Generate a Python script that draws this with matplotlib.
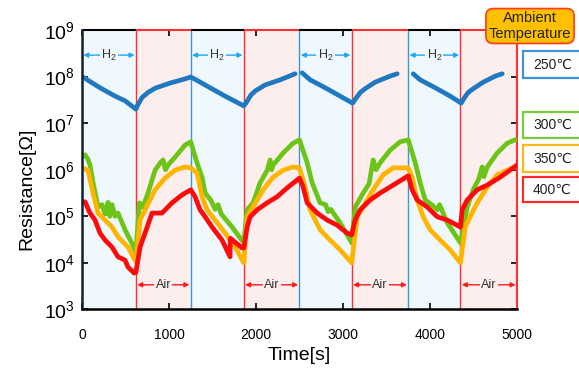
import numpy as np
import matplotlib
matplotlib.use('Agg')
import matplotlib.pyplot as plt
from matplotlib.patches import Rectangle

plt.rcParams['font.family'] = ['Liberation Sans', 'DejaVu Sans']
plt.rcParams['mathtext.fontset'] = 'custom'
plt.rcParams['mathtext.rm'] = 'Liberation Sans'
plt.rcParams['mathtext.it'] = 'Liberation Sans:italic'
plt.rcParams['mathtext.bf'] = 'Liberation Sans:bold'

NAN = float('nan')

# ---- data ----
boundaries = [0, 620, 1250, 1860, 2500, 3100, 3750, 4350, 5000]
phases = ['H2', 'Air', 'H2', 'Air', 'H2', 'Air', 'H2', 'Air']
legend_labels = ['250℃', '300℃', '350℃', '400℃']
x_ticks = [0, 1000, 2000, 3000, 4000, 5000]

t_250 = [0, 30, 69, 207, 380, 495, 620, 644, 690, 760, 840, 1012, 1185, 1250,
         1311, 1472, 1645, 1860, 1898, 1940, 1990, 2105, 2277, 2450, NAN,
         2530, 2622, 2795, 2967, 3110, 3151, 3200, 3255, 3370, 3542, 3623, NAN,
         3807, 3887, 4060, 4232, 4359, 4393, 4440, 4497, 4612, 4750, 4830]
logr_250 = [7.99, 7.97, 7.92, 7.76, 7.58, 7.48, 7.30, 7.40, 7.55, 7.66, 7.75, 7.86, 7.95, 7.99,
            7.93, 7.76, 7.58, 7.37, 7.47, 7.60, 7.69, 7.82, 7.93, 8.06, NAN,
            8.08, 7.93, 7.76, 7.58, 7.43, 7.54, 7.66, 7.74, 7.88, 8.01, 8.06, NAN,
            8.06, 7.93, 7.76, 7.58, 7.43, 7.54, 7.66, 7.74, 7.88, 8.01, 8.06]

t_300 = [0, 35, 69, 92, 127, 184, 230, 265, 300, 320, 345, 380, 414, 495, 580, 620,
         660, 700, 759, 840, 900, 932, 960, 989, 1012, 1070, 1185, 1250,
         1311, 1380, 1415, 1480, 1530, 1564, 1600, 1725, 1860,
         1898, 1967, 2047, 2130, 2162, 2180, 2197, 2312, 2427, 2500,
         2588, 2645, 2737, 2800, 2829, 2860, 2967, 3100,
         3140, 3232, 3300, 3347, 3380, 3427, 3542, 3657, 3750,
         3830, 3887, 3945, 4020, 4083, 4110, 4198, 4350,
         4428, 4497, 4560, 4600, 4620, 4658, 4773, 4888, 5000]
logr_300 = [6.30, 6.32, 6.22, 6.10, 5.72, 5.20, 5.25, 5.05, 5.30, 5.00, 5.25, 5.00, 5.07, 4.71, 4.40, 4.23,
            5.29, 5.20, 5.50, 5.99, 6.15, 6.21, 6.00, 6.10, 6.15, 6.27, 6.53, 6.60,
            6.21, 5.84, 5.50, 5.35, 5.15, 5.25, 5.05, 4.77, 4.43,
            5.14, 5.29, 5.72, 5.99, 6.21, 6.00, 6.10, 6.36, 6.57, 6.64,
            6.15, 5.72, 5.29, 5.25, 5.10, 5.15, 4.86, 4.43,
            5.20, 5.50, 5.70, 6.21, 6.00, 6.15, 6.42, 6.60, 6.64,
            6.15, 5.72, 5.35, 5.25, 5.14, 5.25, 4.86, 4.43,
            5.20, 5.57, 5.80, 6.06, 5.85, 6.06, 6.36, 6.57, 6.66]

t_350 = [0, 69, 127, 184, 265, 345, 414, 529, 620,
         667, 725, 840, 955, 1070, 1185, 1250,
         1323, 1380, 1438, 1530, 1645, 1760, 1860,
         1898, 1967, 2082, 2197, 2312, 2427, 2500,
         2565, 2622, 2737, 2852, 2967, 3100,
         3163, 3232, 3347, 3462, 3577, 3750,
         3795, 3853, 3922, 4002, 4117, 4232, 4350,
         4405, 4462, 4543, 4658, 4773, 4888, 4980]
logr_350 = [6.04, 5.99, 5.50, 5.07, 4.92, 4.77, 4.56, 4.34, 4.02,
            4.92, 5.14, 5.57, 5.82, 5.99, 6.06, 6.04,
            5.93, 5.42, 5.14, 4.92, 4.64, 4.34, 4.00,
            4.99, 5.20, 5.57, 5.84, 5.99, 6.06, 6.04,
            5.63, 5.14, 4.71, 4.49, 4.28, 4.00,
            4.99, 5.20, 5.57, 5.89, 6.04, 6.04,
            5.84, 5.35, 4.99, 4.71, 4.49, 4.28, 4.00,
            4.77, 4.99, 5.29, 5.63, 5.89, 5.99, 6.06]

t_400 = [0, 35, 92, 150, 207, 265, 345, 414, 495, 529, 600, 620,
         667, 725, 805, 840, 920, 1035, 1150, 1250,
         1300, 1357, 1415, 1495, 1610, 1702, 1705, 1840, 1860,
         1898, 1932, 2013, 2128, 2243, 2358, 2500,
         2542, 2588, 2703, 2818, 2933, 3048, 3100,
         3140, 3197, 3312, 3427, 3577, 3750,
         3795, 3853, 3968, 4083, 4198, 4350,
         4370, 4428, 4543, 4658, 4807, 5000]
logr_400 = [5.31, 5.31, 5.07, 4.92, 4.64, 4.49, 4.34, 4.13, 4.06, 3.91, 3.78, 3.80,
            4.34, 4.64, 5.07, 5.07, 5.07, 5.29, 5.46, 5.57,
            5.42, 5.14, 4.99, 4.77, 4.49, 4.13, 4.53, 4.32, 4.32,
            4.77, 4.99, 5.14, 5.29, 5.42, 5.61, 5.82,
            5.63, 5.29, 5.07, 4.92, 4.81, 4.64, 4.60,
            4.92, 5.14, 5.35, 5.50, 5.67, 5.87,
            5.57, 5.35, 5.20, 4.99, 4.92, 4.77,
            5.14, 5.35, 5.57, 5.67, 5.84, 6.10]

series = [(t_250, logr_250, '#1f78c0'),
          (t_300, logr_300, '#6cc417'),
          (t_350, logr_350, '#ffb400'),
          (t_400, logr_400, '#ff0a0a')]
box_colors = ['#3d94d4', '#7ccc3a', '#ffb81c', '#ff2a2a']

# ---- figure ----
fig = plt.figure(figsize=(5.79, 3.71), dpi=100)
ax = fig.add_axes([0.1416, 0.1658, 0.7513, 0.7534])
ax.set_yscale('log')
ax.set_xlim(0, 5000)
ax.set_ylim(1e3, 1e9)

h2_fill, air_fill = '#eef8fd', '#fdeeee'
h2_edge, air_edge = '#3a9ad6', '#ff3030'
for i, ph in enumerate(phases):
    a, b = boundaries[i], boundaries[i + 1]
    fill = h2_fill if ph == 'H2' else air_fill
    edge = h2_edge if ph == 'H2' else air_edge
    ax.axvspan(a, b, color=fill, zorder=0, lw=0)
    if i > 0:
        ax.axvline(a, color=edge, lw=1.0, zorder=1)
    top_col = 'black' if ph == 'H2' else air_edge
    ax.plot([a, b], [1e9, 1e9], color=top_col, lw=1.5, clip_on=False, zorder=3,
            solid_capstyle='butt')
    ymid = 10 ** 8.46 if ph == 'H2' else 10 ** 3.53
    acol = '#1fa8f0' if ph == 'H2' else '#ff1a1a'
    ax.annotate('', xy=(b - 15, ymid), xytext=(a + 15, ymid),
                arrowprops=dict(arrowstyle='<|-|>', color=acol, lw=1.0,
                                mutation_scale=7, shrinkA=0, shrinkB=0), zorder=4)
    label = 'H$_2$' if ph == 'H2' else 'Air'
    ax.text((a + b) / 2, ymid, label, ha='center', va='center', fontsize=9,
            color='#333333', zorder=5,
            bbox=dict(fc=fill, ec='none', pad=1.0))

for t, lr, c in series:
    ax.plot(t, 10 ** np.array(lr, dtype=float), color=c, lw=3.4, zorder=6,
            solid_joinstyle='round', solid_capstyle='round')

ax.spines['top'].set_visible(False)
ax.spines['right'].set_color(air_edge)
ax.spines['right'].set_linewidth(1.5)
ax.spines['left'].set_linewidth(1.8)
ax.spines['left'].set_color('#102030')
ax.spines['bottom'].set_linewidth(1.8)
ax.spines['left'].set_zorder(7)

ax.set_xticks(x_ticks)
ax.set_yticks([10.0 ** k for k in range(3, 10)])
ax.minorticks_off()
ax.yaxis.set_minor_locator(matplotlib.ticker.NullLocator())
ax.tick_params(axis='both', direction='in', top=True, right=True,
               length=4, width=1.2, color='black')
ax.tick_params(axis='x', labelsize=10, pad=13)
ax.tick_params(axis='y', labelsize=14, pad=5)

ax.set_xlabel('Time[s]', fontsize=14)
ax.set_ylabel('Resistance[Ω]', fontsize=14)
ax.xaxis.set_label_coords(0.5, -0.135)
ax.yaxis.set_label_coords(-0.108, 0.43)

# ---- legend boxes ----
fig.text(530 / 579, 1 - 26 / 371, 'Ambient\nTemperature', ha='center', va='center',
         fontsize=10.5, linespacing=1.1, color='#222222',
         bbox=dict(boxstyle='round,pad=0.2,rounding_size=0.5', fc='#ffc000',
                   ec='#ff3d1a', lw=1.2))
box_tops = [51, 112, 145, 177]
box_bottoms = [78, 138, 172, 202]
for lab, col, top, bot in zip(legend_labels, box_colors, box_tops, box_bottoms):
    y0 = 1 - bot / 371
    h = (bot - top) / 371
    fig.patches.append(Rectangle((523 / 579, y0), 0.2, h, transform=fig.transFigure,
                                 fc='white', ec=col, lw=1.6))
    fig.text(533 / 579, y0 + h / 2, lab, ha='left', va='center', fontsize=10,
             color='#222222')

fig.savefig('out.png', dpi=100)
